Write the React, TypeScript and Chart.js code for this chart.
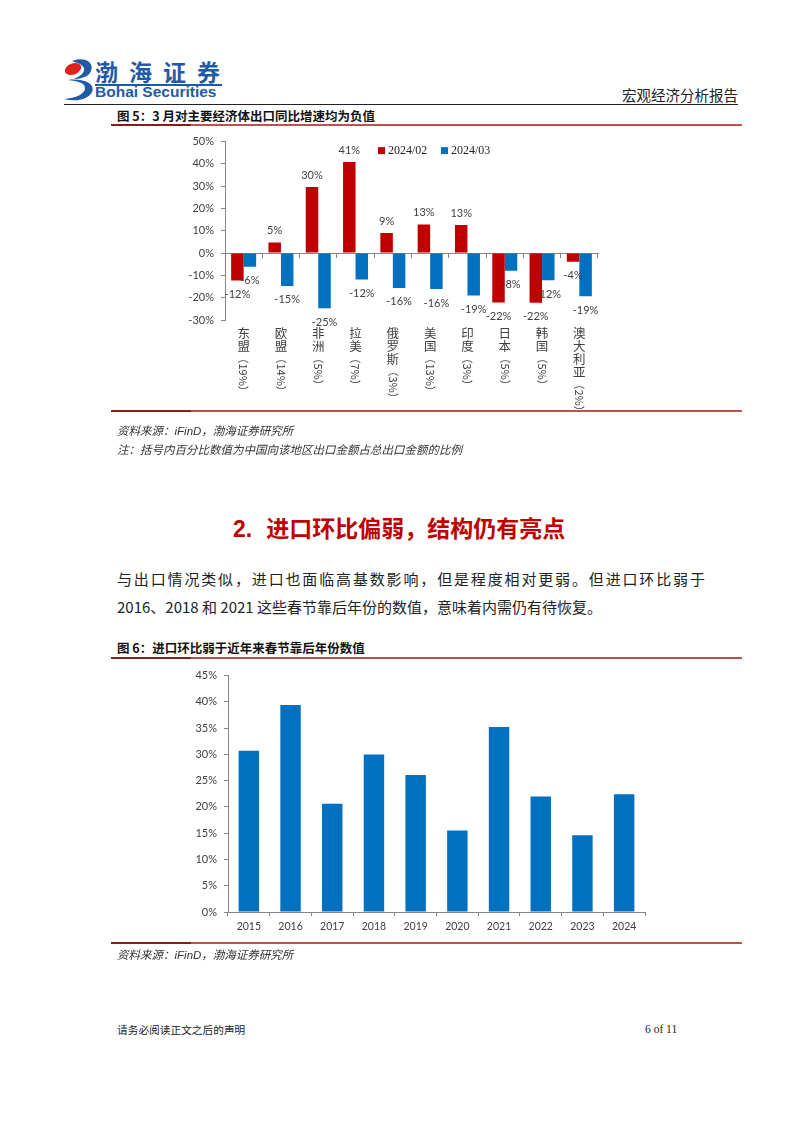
import React, { useEffect, useRef } from 'react';
import { Chart, registerables } from 'chart.js';

Chart.register(...registerables);

// ---------- Data ----------
const regions = ['东盟', '欧盟', '非洲', '拉美', '俄罗斯', '美国', '印度', '日本', '韩国', '澳大利亚'];
const regionShares = ['19%', '14%', '5%', '7%', '3%', '13%', '3%', '5%', '5%', '2%'];
const seriesNames = ['2024/02', '2024/03'];
const exportYoYFeb = [-12.3, 4.8, 29.6, 40.8, 9.0, 12.8, 12.6, -22.2, -22.3, -3.9];
const exportYoYMar = [-6.1, -14.7, -24.7, -11.8, -15.6, -16.1, -19.0, -7.9, -12.2, -19.3];

const years = ['2015', '2016', '2017', '2018', '2019', '2020', '2021', '2022', '2023', '2024'];
const importMoM = [30.7, 39.4, 20.6, 30.0, 26.1, 15.5, 35.2, 22.0, 14.6, 22.4];

// ---------- Styles ----------
const RED = '#C00000';
const BLUE = '#0070C0';
const AXIS = '#868686';
const TICK_COLOR = '#404040';
const TICK_FONT = 'Lato, "Liberation Sans", sans-serif';
const CJK = '"Noto Sans CJK SC", sans-serif';
const SERIF = '"Liberation Serif", "Noto Sans CJK SC", serif';

const pct = (v: any) => `${v}%`;

// ---------- Plugins ----------
const valueLabels = {
  id: 'valueLabels',
  afterDatasetsDraw(chart: any) {
    const ctx = chart.ctx;
    ctx.save();
    ctx.font = `11px ${TICK_FONT}`;
    ctx.fillStyle = TICK_COLOR;
    ctx.textAlign = 'center';
    ctx.textBaseline = 'middle';
    chart.data.datasets.forEach((ds: any, di: number) => {
      const meta = chart.getDatasetMeta(di);
      meta.data.forEach((bar: any, i: number) => {
        const v = ds.data[i];
        const y = v >= 0 ? bar.y - 12 : bar.y + 14;
        ctx.fillText(`${Math.round(v)}%`, bar.x, y);
      });
    });
    ctx.restore();
  },
};

const verticalCategoryLabels = {
  id: 'verticalCategoryLabels',
  afterDraw(chart: any) {
    const ctx = chart.ctx;
    const xs = chart.scales.x;
    const top = chart.chartArea.bottom + 13;
    ctx.save();
    ctx.fillStyle = TICK_COLOR;
    chart.data.labels.forEach((lab: any, i: number) => {
      const [name, share] = lab;
      const x = xs.getPixelForValue(i);
      ctx.font = `12.5px ${CJK}`;
      ctx.textAlign = 'center';
      ctx.textBaseline = 'middle';
      const chars = Array.from(name as string);
      chars.forEach((ch, k) => ctx.fillText(ch, x, top + k * 13));
      const start = top + (chars.length - 1) * 13 + 6.5;
      ctx.save();
      ctx.translate(x, start);
      ctx.rotate(Math.PI / 2);
      ctx.font = `11px ${CJK}`;
      ctx.textAlign = 'left';
      ctx.textBaseline = 'middle';
      ctx.fillText(share, 0, 0);
      ctx.restore();
    });
    ctx.restore();
  },
};

const innerLegend = {
  id: 'innerLegend',
  afterDraw(chart: any) {
    const ctx = chart.ctx;
    const { left, top } = chart.chartArea;
    let x = left + 153;
    const y = top + 9;
    ctx.save();
    chart.data.datasets.forEach((ds: any) => {
      ctx.fillStyle = ds.backgroundColor;
      ctx.fillRect(x, y - 3.5, 7, 7);
      ctx.fillStyle = '#222';
      ctx.font = `12px ${SERIF}`;
      ctx.textAlign = 'left';
      ctx.textBaseline = 'middle';
      ctx.fillText(ds.label, x + 10, y + 0.5);
      x += 63;
    });
    ctx.restore();
  },
};

// ---------- Charts ----------
function ExportChart() {
  const ref = useRef<HTMLCanvasElement | null>(null);
  useEffect(() => {
    if (!ref.current) return;
    const chart = new Chart(ref.current, {
      type: 'bar',
      data: {
        labels: regions.map((r, i) => [r, `（${regionShares[i]}）`]) as any,
        datasets: [
          { label: seriesNames[0], data: exportYoYFeb, backgroundColor: RED, categoryPercentage: 0.67, barPercentage: 1.0 },
          { label: seriesNames[1], data: exportYoYMar, backgroundColor: BLUE, categoryPercentage: 0.67, barPercentage: 1.0 },
        ],
      },
      options: {
        animation: false,
        responsive: false,
        maintainAspectRatio: false,
        layout: { padding: { top: 13, right: 144, bottom: 91, left: 0 } },
        plugins: { legend: { display: false }, tooltip: { enabled: false } },
        scales: {
          x: {
            position: { y: 0 } as any,
            grid: { display: true, drawOnChartArea: false, drawTicks: true, tickLength: 4, color: AXIS, offset: true },
            border: { display: true, color: AXIS },
            ticks: { display: false },
            afterFit: (s: any) => { s.height = 0; },
          },
          y: {
            min: -30,
            max: 50,
            ticks: { stepSize: 10, callback: pct, color: TICK_COLOR, font: { family: TICK_FONT, size: 11 }, padding: 7 },
            grid: { drawOnChartArea: false, tickLength: 4, color: AXIS },
            border: { color: AXIS },
            afterFit: (s: any) => { s.width = 114; },
          },
        },
      } as any,
      plugins: [valueLabels, verticalCategoryLabels, innerLegend],
    });
    return () => chart.destroy();
  }, []);
  return <canvas ref={ref} width={631} height={283} style={{ position: 'absolute', left: 111, top: 128, width: 631, height: 283 }} />;
}

function ImportChart() {
  const ref = useRef<HTMLCanvasElement | null>(null);
  useEffect(() => {
    if (!ref.current) return;
    const chart = new Chart(ref.current, {
      type: 'bar',
      data: {
        labels: years,
        datasets: [
          { label: '进口环比', data: importMoM, backgroundColor: BLUE, categoryPercentage: 1.0, barPercentage: 0.49 },
        ],
      },
      options: {
        animation: false,
        responsive: false,
        maintainAspectRatio: false,
        layout: { padding: { top: 13, right: 97, bottom: 0, left: 0 } },
        plugins: { legend: { display: false }, tooltip: { enabled: false } },
        scales: {
          x: {
            grid: { display: true, drawOnChartArea: false, drawTicks: true, tickLength: 4, color: AXIS, offset: true },
            border: { color: AXIS },
            ticks: { color: TICK_COLOR, font: { family: TICK_FONT, size: 10.5 }, padding: 4, maxRotation: 0 },
            afterFit: (s: any) => { s.height = 31; },
          },
          y: {
            min: 0,
            max: 45,
            ticks: { stepSize: 5, callback: pct, color: TICK_COLOR, font: { family: TICK_FONT, size: 11 }, padding: 7 },
            grid: { drawOnChartArea: false, tickLength: 4, color: AXIS },
            border: { color: AXIS },
            afterFit: (s: any) => { s.width = 117; },
          },
        },
      } as any,
    });
    return () => chart.destroy();
  }, []);
  return <canvas ref={ref} width={631} height={281} style={{ position: 'absolute', left: 111, top: 662, width: 631, height: 281 }} />;
}

// ---------- Page pieces ----------
function T(props: { x: number; cy: number; size: number; children: any; style?: any }) {
  const { x, cy, size, children, style } = props;
  return (
    <div style={{ position: 'absolute', left: x, top: cy - size / 2, fontSize: size, lineHeight: `${size}px`, whiteSpace: 'nowrap', ...style }}>
      {children}
    </div>
  );
}

function RedRule({ y }: { y: number }) {
  return (
    <>
      <div style={{ position: 'absolute', left: 111, top: y - 1, width: 631, height: 1.5, background: '#C0504D' }} />
      <div style={{ position: 'absolute', left: 111, top: y - 1.2, width: 80, height: 2.2, background: '#8B1A1A' }} />
    </>
  );
}

function Logo() {
  return (
    <svg width={32} height={44} viewBox="0 0 32 44" style={{ position: 'absolute', left: 63, top: 58 }}>
      <path d="M9 3 C 22 -2, 33 5, 27 15 C 24 19, 17 21, 11 21 C 18 18, 22 14, 21 10 C 19 6, 14 5, 9 3 Z" fill="#1F5AA6" />
      <path d="M5 22 C 19 20, 33 25, 29 34 C 25 42, 12 44, 1 41 C 13 40, 22 36, 22 30 C 22 25, 15 23, 5 22 Z" fill="#1F5AA6" />
      <ellipse cx="10" cy="11" rx="8.5" ry="5.5" fill="#E0201B" transform="rotate(-20 10 11)" />
    </svg>
  );
}

export default function App() {
  return (
    <div style={{ position: 'absolute', left: 0, top: 0, width: 802, height: 1133, background: '#fff', overflow: 'hidden', fontFamily: CJK, color: '#222' }}>
      {/* Header */}
      <Logo />
      <T x={95} cy={71} size={23} style={{ fontWeight: 700, color: '#1F5AA6', letterSpacing: 11 }}>渤海证券</T>
      <div style={{ position: 'absolute', left: 95, top: 84, width: 127, height: 1.5, background: '#1F5AA6' }} />
      <T x={95} cy={92} size={15.5} style={{ fontFamily: '"Liberation Sans", Arial, sans-serif', fontWeight: 700, color: '#1F5AA6' }}>Bohai Securities</T>
      <T x={622} cy={95} size={14.5} style={{ color: '#222' }}>宏观经济分析报告</T>
      <div style={{ position: 'absolute', left: 64, top: 103.5, width: 674, height: 1.5, background: '#222' }} />

      {/* Figure 5 */}
      <T x={117} cy={116} size={12.5} style={{ fontWeight: 700, color: '#111' }}>图 5：3 月对主要经济体出口同比增速均为负值</T>
      <RedRule y={125} />
      <ExportChart />
      <RedRule y={411} />
      <T x={117} cy={431} size={11.5} style={{ fontStyle: 'italic', color: '#333' }}>资料来源：<span style={{ fontFamily: '"Liberation Sans", Arial, sans-serif' }}>iFinD</span>，渤海证券研究所</T>
      <T x={117} cy={450} size={11.5} style={{ fontStyle: 'italic', color: '#333' }}>注：括号内百分比数值为中国向该地区出口金额占总出口金额的比例</T>

      {/* Section heading */}
      <T x={233} cy={527} size={23} style={{ fontWeight: 700, color: RED }}><span style={{ fontFamily: '"Liberation Sans", Arial, sans-serif', marginRight: 14 }}>2.</span>进口环比偏弱，结构仍有亮点</T>

      <T x={117} cy={578} size={15} style={{ letterSpacing: 1.85, color: '#222' }}>与出口情况类似，进口也面临高基数影响，但是程度相对更弱。但进口环比弱于</T>
      <T x={117} cy={606} size={15} style={{ letterSpacing: 0, color: '#222' }}>2016、2018 和 2021 这些春节靠后年份的数值，意味着内需仍有待恢复。</T>

      {/* Figure 6 */}
      <T x={117} cy={648} size={12.5} style={{ fontWeight: 700, color: '#111' }}>图 6：进口环比弱于近年来春节靠后年份数值</T>
      <RedRule y={658} />
      <ImportChart />
      <RedRule y={943} />
      <T x={117} cy={955} size={11.5} style={{ fontStyle: 'italic', color: '#333' }}>资料来源：<span style={{ fontFamily: '"Liberation Sans", Arial, sans-serif' }}>iFinD</span>，渤海证券研究所</T>

      {/* Footer */}
      <T x={117} cy={1030} size={10.7} style={{ color: '#222' }}>请务必阅读正文之后的声明</T>
      <T x={645} cy={1030} size={11.5} style={{ fontFamily: SERIF, color: '#222' }}>6 of 11</T>
    </div>
  );
}
